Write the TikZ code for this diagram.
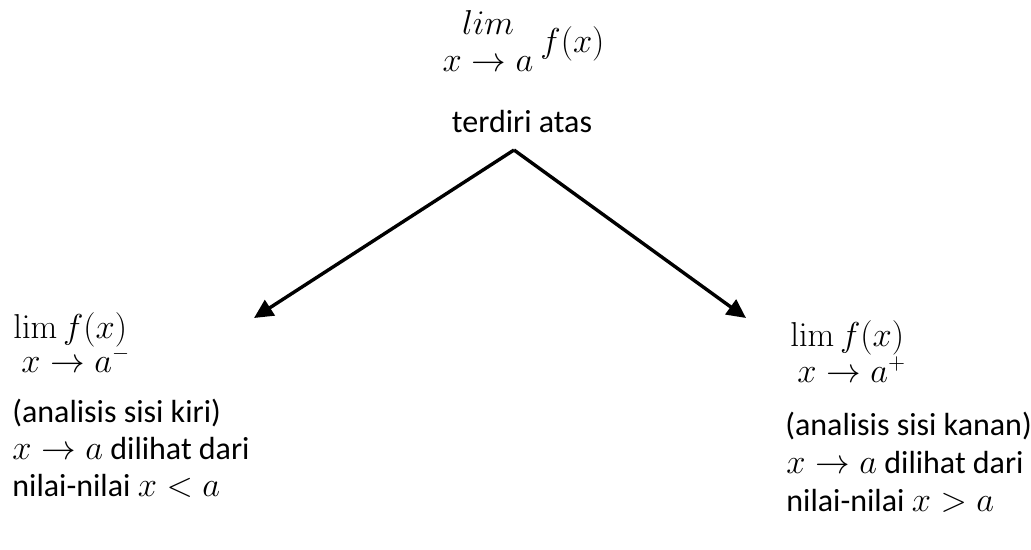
\documentclass[tikz,border=0pt]{standalone}
\usepackage[no-math]{fontspec}
\setmainfont{Carlito}
\usetikzlibrary{arrows.meta}

\begin{document}
\begin{tikzpicture}[
    x=0.5pt, y=-0.5pt,
    txt/.style={
        anchor=base west,
        inner sep=0pt,
        font=\fontsize{16}{19}\selectfont
    },
    limtxt/.style={txt, text depth=0pt},
    branch/.style={
        line width=1.7pt,
        -{Triangle[length=9.5pt,width=9pt]}
    }
]
\useasboundingbox (0, 0) rectangle (1031, 550);

% Top limit
\node[limtxt, anchor=base] (limtop) at (488, 35) {$lim$};
\node[txt, anchor=base] (subtop) at (488, 72) {$x \to a$};
\node[txt] (ftop) at (540, 53) {$f(x)$};
\node[txt, anchor=base] (terdiri) at (522, 133) {terdiri atas};

% Branches
\coordinate (apex) at (514, 150);
\coordinate (tipL) at (254, 318);
\coordinate (tipR) at (746, 318);
\draw[branch] (apex) -- (tipL);
\draw[branch] (apex) -- (tipR);

% Left side
\node[limtxt] (limL) at (13, 338) {$\lim f(x)$};
\node[txt] (subL) at (21, 372) {$x \to a^{-}$};
\node[txt] (kiri1) at (12, 422) {(analisis sisi kiri)};
\node[txt] (kiri2) at (12, 459) {$x \to a$ dilihat dari};
\node[txt] (kiri3) at (12, 496) {nilai-nilai $x < a$};

% Right side
\node[limtxt] (limR) at (790, 346) {$\lim f(x)$};
\node[txt] (subR) at (797, 382) {$x \to a^{+}$};
\node[txt] (kanan1) at (785, 435) {(analisis sisi kanan)};
\node[txt] (kanan2) at (786, 473) {$x \to a$ dilihat dari};
\node[txt] (kanan3) at (786, 511) {nilai-nilai $x > a$};

\end{tikzpicture}
\end{document}
